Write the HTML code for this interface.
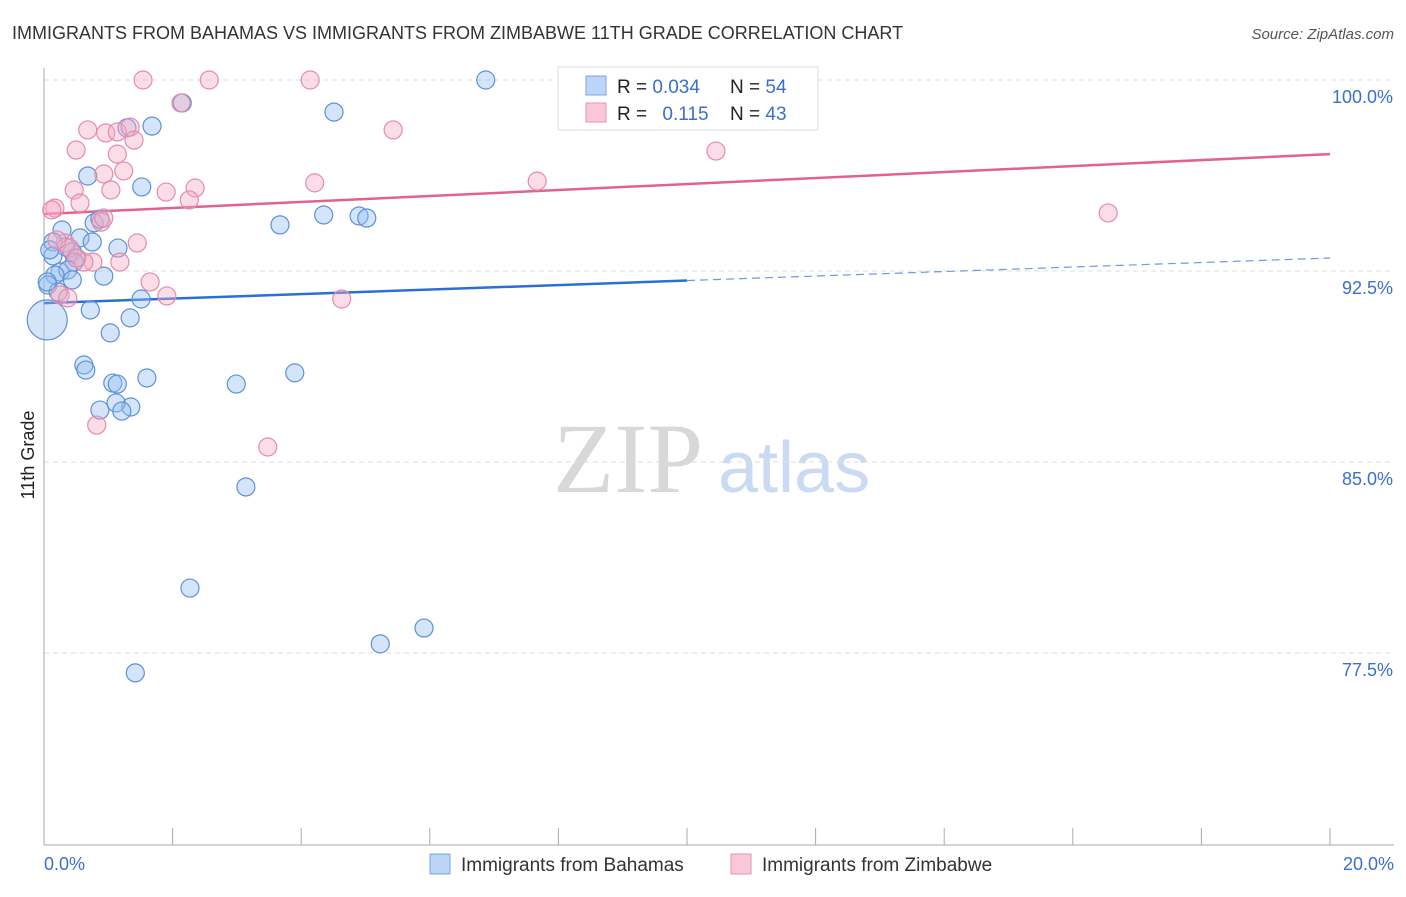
<!DOCTYPE html>
<html><head><meta charset="utf-8"><style>
body{margin:0;background:#fff;font-family:"Liberation Sans",sans-serif;}
svg text{font-family:"Liberation Sans",sans-serif;}
</style></head><body>
<svg id="chart" width="1406" height="892" xmlns="http://www.w3.org/2000/svg">
<text x="12" y="39" font-size="18" fill="#333">IMMIGRANTS FROM BAHAMAS VS IMMIGRANTS FROM ZIMBABWE 11TH GRADE CORRELATION CHART</text>
<text x="1394" y="39" font-size="15" fill="#555" font-style="italic" text-anchor="end">Source: ZipAtlas.com</text>
<g>
<text x="553" y="492" font-size="100" fill="#d8d8d8" font-family="Liberation Serif" style="font-family:'Liberation Serif',serif">ZIP</text>
<text x="718" y="492" font-size="72" fill="#c9daf2">atlas</text>
</g>
<g id="grid"></g>
<g id="axes"></g>
<g id="lines"></g>
<g id="points"></g>
<text transform="translate(34,455) rotate(-90)" font-size="18" fill="#222" text-anchor="middle">11th Grade</text>
<g>
<rect x="558" y="67" width="260" height="63" fill="#fff" stroke="#ddd"/>
<rect x="586" y="76" width="20" height="19" fill="#bcd4f6" stroke="#7aa6e6"/>
<rect x="586" y="103" width="20" height="19" fill="#f9c8d6" stroke="#ea92ad"/>
<text x="617" y="93" font-size="19" fill="#222">R = <tspan fill="#3a6fd0">0.034</tspan></text>
<text x="730" y="93" font-size="19" fill="#222">N = <tspan fill="#3a6fd0">54</tspan></text>
<text x="617" y="120" font-size="19" fill="#222">R = <tspan fill="#3a6fd0" dx="10">0.115</tspan></text>
<text x="730" y="120" font-size="19" fill="#222">N = <tspan fill="#3a6fd0">43</tspan></text>
</g>
<g>
<rect x="430" y="854" width="20" height="20" fill="#bcd4f6" stroke="#7aa6e6"/>
<text x="461" y="871" font-size="19" fill="#333">Immigrants from Bahamas</text>
<rect x="731" y="854" width="20" height="20" fill="#f9c8d6" stroke="#ea92ad"/>
<text x="762" y="871" font-size="19" fill="#333">Immigrants from Zimbabwe</text>
</g>
</svg>
<script>
const blueX=[0.05,6.87,4.51,1.68,1.29,2.15,0.68,1.52,3.67,4.35,4.90,5.02,0.78,0.87,0.28,0.14,0.56,0.75,0.34,0.44,1.15,0.14,0.51,0.47,0.25,0.37,0.17,0.93,0.44,0.06,0.22,1.51,0.72,1.34,1.03,0.62,0.65,1.07,1.14,1.60,2.99,3.90,0.87,1.35,1.12,1.21,3.14,2.27,1.42,5.23,5.91,8.90,0.05,0.09];
const blueY=[90.58,100,98.74,98.19,98.12,99.10,96.23,95.80,94.31,94.70,94.66,94.58,94.39,94.54,94.11,93.64,93.80,93.64,93.44,93.25,93.40,93.09,93.01,92.85,92.46,92.54,92.34,92.30,92.15,91.95,91.68,91.40,90.97,90.66,90.07,88.81,88.61,88.10,88.06,88.30,88.06,88.50,87.04,87.16,87.32,87.00,84.02,80.05,76.72,77.86,78.48,100,92.07,93.33];
const pinkX=[1.54,2.57,4.14,2.13,0.68,0.96,1.14,1.34,1.40,5.43,0.50,1.14,1.24,0.93,0.47,1.04,1.90,2.35,4.21,7.67,10.45,16.55,0.56,2.26,0.17,0.89,1.45,0.33,0.40,0.76,1.18,0.62,1.65,1.91,4.63,0.25,0.37,0.82,3.48,0.20,0.12,0.50,0.93];
const pinkY=[100,100,100,99.10,98.04,97.92,97.96,98.15,97.64,98.04,97.25,97.09,96.43,96.31,95.68,95.68,95.60,95.76,95.96,96.03,97.21,94.78,95.17,95.29,94.97,94.42,93.60,93.60,93.40,92.85,92.85,92.85,92.07,91.52,91.40,91.56,91.44,86.45,85.59,93.72,94.90,93.01,94.58];
const blueTrend=[91.24,93.01];
const pinkTrend=[94.74,97.09];
const yTicks=[100,92.5,85,77.5];
const yTickLabels=["100.0%","92.5%","85.0%","77.5%"];
const xTicks=[0,2,4,6,8,10,12,14,16,18,20];
const NS="http://www.w3.org/2000/svg";
const X=v=>44+v/20*1286;
const Y=v=>80+(100-v)*25.467;
function mk(tag,attrs,parent){const e=document.createElementNS(NS,tag);for(const k in attrs)e.setAttribute(k,attrs[k]);document.getElementById(parent).appendChild(e);return e;}
yTicks.forEach((t,i)=>{
 const g=mk('line',{x1:44,x2:1394,y1:Y(t),y2:Y(t),stroke:'#ddd','stroke-dasharray':'5,4'},'grid');
 
 
 const tx=mk('text',{x:1393,y:Y(t)+23,'font-size':18,fill:'#3a6fd0','text-anchor':'end'},'axes');
 tx.textContent=yTickLabels[i];
 
 
});
const ya=mk('line',{x1:44,x2:44,y1:68,y2:845,stroke:'#aaa'},'axes');


const xa=mk('line',{x1:44,x2:1394,y1:845,y2:845,stroke:'#aaa'},'axes');


xTicks.forEach(t=>{
 const l=mk('line',{x1:X(t),x2:X(t),y1:828,y2:845,stroke:'#aaa'},'axes');
 
 
});
const xl0=mk('text',{x:44,y:870,'font-size':18,fill:'#3a6fd0'},'axes');
xl0.textContent=xTicks[0].toFixed(1)+'%';


const xl1=mk('text',{x:1394,y:870,'font-size':18,fill:'#3a6fd0','text-anchor':'end'},'axes');
xl1.textContent=xTicks[xTicks.length-1].toFixed(1)+'%';


const bm=blueTrend[0]+(blueTrend[1]-blueTrend[0])*0.5;
const b1=mk('line',{x1:X(0),y1:Y(blueTrend[0]),x2:X(10),y2:Y(bm),stroke:'#2a6fd4','stroke-width':2.5},'lines');


const b2=mk('line',{x1:X(10),y1:Y(bm),x2:X(20),y2:Y(blueTrend[1]),stroke:'#6a9be0','stroke-width':1.2,'stroke-dasharray':'8,5'},'lines');


const p1=mk('line',{x1:X(0),y1:Y(pinkTrend[0]),x2:X(20),y2:Y(pinkTrend[1]),stroke:'#e2628c','stroke-width':2.5},'lines');


blueX.forEach((v,i)=>{
 const c=mk('circle',{cx:X(v),cy:Y(blueY[i]),r:i===0?20:9,fill:'rgba(150,190,240,0.4)',stroke:'#5d90dc','stroke-width':1.2},'points');
 
 
});
pinkX.forEach((v,i)=>{
 const c=mk('circle',{cx:X(v),cy:Y(pinkY[i]),r:9,fill:'rgba(245,170,195,0.4)',stroke:'#e88aa8','stroke-width':1.2},'points');
 
 
});
</script>
</body></html>
